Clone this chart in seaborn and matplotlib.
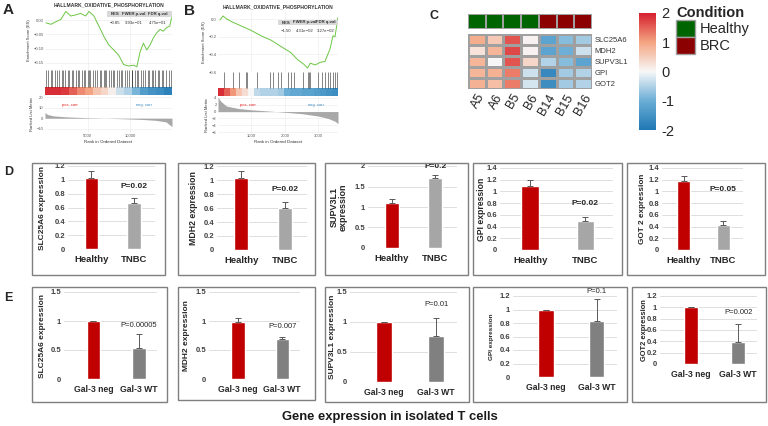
import numpy as np
import pandas as pd
import matplotlib
matplotlib.use('Agg')
from matplotlib import pyplot as plt
from matplotlib.colors import LinearSegmentedColormap, ListedColormap
from matplotlib.patches import Rectangle, Patch
import seaborn as sns

W, H = 768, 426

####### DATA #######
# panel A - GSEA, ranked list of ~14900 genes
a_rank = [116, 698, 1279, 1860, 2442, 3023, 3605, 4186, 4767, 5155, 5736, 6318, 6899, 7481, 8062,
          8643, 9225, 9806, 10388, 10775, 11163, 11550, 11938, 12326, 12713, 13101, 13488, 13876,
          14264, 14651, 14845]
a_es = [-0.010, -0.015, -0.006, 0.002, 0.030, 0.014, 0.018, 0.023, 0.014, 0.030, 0.014, -0.021,
        -0.057, -0.087, -0.105, -0.123, -0.156, -0.161, -0.158, -0.164, -0.111, -0.081, -0.105,
        -0.087, -0.063, -0.045, -0.033, -0.039, -0.027, -0.021, 0.008]
a_hits = [150, 380, 700, 820, 1150, 1450, 1600, 1950, 2100, 2350, 2650, 2800, 3150, 3300, 3600,
          3850, 3950, 4300, 4550, 4650, 5000, 5200, 5300, 5650, 5900, 6150, 6400, 6550, 6900, 7050,
          7200, 7550, 7700, 8000, 8150, 8450, 8700, 8950, 9050, 9400, 9650, 9800, 10150, 10250,
          10600, 10850, 10950, 11300, 11550, 11700, 12050, 12250, 12500, 12650, 12950, 13250,
          13400, 13750, 13900, 14250, 14500, 14750]
a_band = [1.9, 1.9, 1.8, 1.5, 1.2, 1.0, 0.6, 0.4, 0.1, -0.3, -0.5, -0.9, -1.3, -1.5, -1.6, -1.8]
a_metric_rank = [0, 300, 1000, 2500, 4500, 7000, 9500, 11500, 13000, 14200, 14900]
a_metric = [5.5, 3.5, 2.2, 1.3, 0.6, 0.0, -0.6, -1.2, -2.0, -3.5, -8.0]
a_stats = ['\u22120.85', '9.93e\u221201', '4.75e\u221201']

# panel B - GSEA, ranked list of ~3590 genes
b_rank = [60, 150, 265, 410, 705, 1000, 1290, 1590, 1880, 2180, 2380, 2560, 2680, 2760, 2910,
          3060, 3200, 3350, 3440, 3500, 3590]
b_es = [-0.01, 0.035, 0.0, -0.03, -0.08, -0.13, -0.19, -0.24, -0.31, -0.38, -0.46, -0.51, -0.555,
        -0.50, -0.52, -0.49, -0.48, -0.34, -0.19, -0.20, 0.02]
b_hits = [176, 441, 618, 824, 882, 1176, 1559, 1647, 1794, 1882, 2088, 2176, 2265, 2529, 2706,
          2735, 2765, 3000, 3118, 3206, 3294, 3353, 3441, 3500, 3559]
b_band = [1.9, 1.5, 1.1, 0.6, 0.3, 0.0, -0.4, -0.5, -0.5, -0.5, -0.6, -1.0, -1.1, -1.1, -1.2,
          -1.2, -1.3, -1.4, -1.5, -1.6]
b_metric_rank = [0, 80, 250, 600, 1000, 1600, 2000, 2500, 3000, 3300, 3500, 3590]
b_metric = [4.2, 3.0, 1.6, 0.9, 0.5, 0.1, -0.2, -0.6, -1.3, -2.0, -2.8, -3.5]
b_stats = ['\u22121.50', '4.31e\u221202', '3.27e\u221202']

# panel C - heatmap (z-scores)
samples = ['A5', 'A6', 'B5', 'B6', 'B14', 'B15', 'B16']
condition = ['Healthy', 'Healthy', 'Healthy', 'Healthy', 'BRC', 'BRC', 'BRC']
genes = ['SLC25A6', 'MDH2', 'SUPV3L1', 'GPI', 'GOT2']
z_slc25a6 = [0.9, 0.55, 1.6, 0.05, -1.2, -0.8, -0.6]
z_mdh2 = [0.25, 0.8, 1.7, 0.05, -1.2, -1.0, -0.3]
z_supv3l1 = [0.8, 0.0, 1.6, 0.4, -0.5, -0.8, -1.2]
z_gpi = [0.8, 0.85, 1.3, -0.3, -1.7, -0.6, -0.5]
z_got2 = [0.85, 0.7, 1.3, -0.25, -1.6, -0.6, -0.5]

# panel D - tumour vs healthy
d_groups = ['Healthy', 'TNBC']
d_ylabels = ['SLC25A6 expression', 'MDH2 expression', 'SUPV3L1\nexpression', 'GPI expression',
             'GOT 2 expression']
d_healthy = [1.03, 1.03, 1.10, 1.09, 1.17]
d_healthy_err = [0.10, 0.10, 0.10, 0.11, 0.10]
d_tnbc = [0.67, 0.60, 1.71, 0.50, 0.43]
d_tnbc_err = [0.07, 0.08, 0.07, 0.06, 0.07]
d_pvals = ['P=0.02', 'P=0.02', 'P=0.2', 'P=0.02', 'P=0.05']
d_p_y = [0.86, 0.81, 1.90, 0.73, 0.97]
d_ymax = [1.2, 1.2, 2.0, 1.4, 1.4]
d_ystep = [0.2, 0.2, 0.5, 0.2, 0.2]

# panel E - isolated T cells
e_groups = ['Gal-3 neg', 'Gal-3 WT']
e_ylabels = ['SLC25A6 expression', 'MDH2 expression', 'SUPV3L1 expression', 'GPI expression',
             'GOT2 expression']
e_neg = [1.00, 0.99, 1.00, 0.99, 1.00]
e_neg_err = [0.005, 0.06, 0.005, 0.005, 0.005]
e_wt = [0.54, 0.69, 0.76, 0.83, 0.39]
e_wt_err = [0.24, 0.04, 0.31, 0.32, 0.31]
e_pvals = ['P=0.00005', 'P=0.007', 'P=0.01', 'P=0.1', 'P=0.002']
e_p_y = [0.87, 0.84, 1.23, 1.22, 0.85]
e_ymax = [1.5, 1.5, 1.5, 1.2, 1.2]
e_ystep = [0.5, 0.5, 0.5, 0.2, 0.2]
##### END DATA #####

####### PLOT PARAMS #######
RED = '#C00000'
D_GREY = '#A6A6A6'
E_GREY = '#808080'
HEAT_CMAP = LinearSegmentedColormap.from_list(
    'heat', ['#1F78B4', '#6BAED6', '#F7F7F7', '#F4A582', '#D6202F'])
COND_COLORS = {'Healthy': '#006400', 'BRC': '#8B0000'}

# layout in pixels
D_AXES = [(68, 166, 155, 249), (217, 166, 307, 250), (368, 166, 457, 248),
          (500, 168, 613, 250), (662, 168, 743, 250)]
D_BOXES = [(32, 163, 165, 275), (178, 163, 315, 275), (325, 163, 468, 275),
           (473, 163, 622, 275), (627, 163, 765, 275)]
D_LABEL_X = [43, 193, 339, 481, 643]
E_AXES = [(64, 292, 157, 379), (209, 292, 300, 379), (350, 292, 457, 382),
          (513, 296, 617, 377), (660, 296, 757, 364)]
E_BOXES = [(32, 287, 167, 402), (178, 287, 315, 400), (325, 287, 469, 402),
           (473, 287, 627, 402), (632, 287, 766, 402)]
E_LABEL_X = [42, 187, 333, 491, 644]
D_LABEL_SIZE = [6.0, 6.3, 6.5, 6.2, 5.9]
E_LABEL_SIZE = [6.0, 6.0, 6.0, 4.6, 5.4]
##### END PLOT PARAMS #####

sns.set_style('white')
plt.rcParams['font.family'] = ['Liberation Sans', 'DejaVu Sans']


def rect(x0, y0, x1, y1):
    return [x0 / W, 1 - y1 / H, (x1 - x0) / W, (y1 - y0) / H]


def draw_gsea(fig, x0, x1, ys, rank, es, hits, band, m_rank, metric, n, es_lim, es_ticks, es_fmt,
              m_lim, m_ticks, r_ticks, stats, table, corr_x):
    top, hit_top, band_top, m_top, bottom = ys
    ax1 = fig.add_axes(rect(x0, top, x1, hit_top))
    sns.lineplot(x=rank, y=es, ax=ax1, color='#6CC644', linewidth=0.7)
    ax1.set_xlim(0, n)
    ax1.set_ylim(*es_lim)
    ax1.set_yticks(es_ticks)
    ax1.set_yticklabels([(es_fmt % t).replace('-', '\u2212') for t in es_ticks])
    ax1.set_xticks(r_ticks)
    ax1.set_xticklabels([])
    ax1.grid(True, color='#EBEBEB', lw=0.4)
    ax1.tick_params(length=0, labelsize=3, pad=1, colors='#555555')
    ax1.set_ylabel('Enrichment Score (ES)', fontsize=3, labelpad=2, color='#333333')
    for s in ax1.spines.values():
        s.set_visible(False)
    ax1.set_title('HALLMARK_OXIDATIVE_PHOSPHORYLATION', fontsize=3.6, pad=2.5,
                  color='#333333', fontweight='bold')
    # stats table
    tx0, ty0, ty1, tx = table
    ax1.add_patch(Rectangle((tx0, ty0), 1 - tx0, ty1 - ty0, transform=ax1.transAxes,
                            facecolor='#D9D9D9', edgecolor='none', zorder=3))
    heads = ['NES', 'FWER p-val', 'FDR q-val']
    for k in range(3):
        ax1.text(tx[k], (ty0 + ty1) / 2, heads[k], transform=ax1.transAxes, fontsize=3.1,
                 ha='center', va='center', color='#333333', fontweight='bold', zorder=4)
        ax1.text(tx[k], ty0 - 0.09, stats[k], transform=ax1.transAxes, fontsize=3.1,
                 ha='center', va='center', color='#333333', zorder=4)

    ax2 = fig.add_axes(rect(x0, hit_top, x1, m_top))
    frac = (m_top - band_top) / (m_top - hit_top)
    ax2.imshow([band], extent=(0, n, 0, frac), aspect='auto', cmap=HEAT_CMAP, vmin=-2, vmax=2)
    ax2.vlines(hits, frac, 1, color='black', lw=0.45, alpha=0.75)
    ax2.set_xlim(0, n)
    ax2.set_ylim(0, 1)
    ax2.axis('off')

    ax3 = fig.add_axes(rect(x0, m_top, x1, bottom))
    ax3.fill_between(m_rank, metric, 0, color='#A8A8A8', lw=0)
    ax3.set_xlim(0, n)
    ax3.set_ylim(*m_lim)
    ax3.set_yticks(m_ticks)
    ax3.set_yticklabels([str(t).replace('-', '\u2212') for t in m_ticks])
    ax3.set_xticks(r_ticks)
    ax3.grid(True, color='#EBEBEB', lw=0.4)
    ax3.tick_params(length=0, labelsize=3, pad=1, colors='#555555')
    ax3.set_ylabel('Ranked List Metric', fontsize=3, labelpad=2, color='#333333')
    ax3.set_xlabel('Rank in Ordered Dataset', fontsize=3.2, labelpad=1, color='#333333')
    for s in ax3.spines.values():
        s.set_visible(False)
    ax3.text(corr_x[0], 0.72, 'pos. corr', transform=ax3.transAxes, fontsize=3,
             color='#E41A1C', ha='center')
    ax3.text(corr_x[1], 0.72, 'neg. corr', transform=ax3.transAxes, fontsize=3,
             color='#3182BD', ha='center')


def draw_bars(fig, axpos, box, label_x, groups, vals, errs, colors, ylabel, lsize, ymax, ystep,
              ptxt, py, bold_p, xlim, width):
    fig.add_artist(Rectangle((box[0] / W, 1 - box[3] / H), (box[2] - box[0]) / W,
                             (box[3] - box[1]) / H, transform=fig.transFigure, fill=False,
                             edgecolor='#7F7F7F', lw=1.0))
    ax = fig.add_axes(rect(*axpos))
    df = pd.DataFrame({'group': groups, 'value': vals})
    sns.barplot(data=df, x='group', y='value', hue='group', palette=dict(zip(groups, colors)),
                width=width, legend=False, errorbar=None, saturation=1, ax=ax, zorder=2)
    ax.errorbar([0, 1], vals, yerr=[[0, 0], errs], fmt='none', ecolor='#595959',
                elinewidth=0.7, capsize=2, capthick=0.7, zorder=3)
    ticks = np.arange(0, ymax + 1e-9, ystep)
    ax.set_ylim(0, ymax)
    ax.set_yticks(ticks)
    ax.set_yticklabels([f'{t:g}' for t in ticks])
    ax.set_xlim(*xlim)
    ax.set_axisbelow(True)
    ax.yaxis.grid(True, color='#D9D9D9', lw=0.6)
    sns.despine(ax=ax, left=True, bottom=True)
    ax.tick_params(axis='y', length=0, pad=2)
    ax.tick_params(axis='x', length=0, pad=4)
    for t in ax.get_yticklabels():
        t.set_fontsize(5.5)
        t.set_fontweight('bold')
        t.set_color('#404040')
    for t in ax.get_xticklabels():
        t.set_fontsize(6.8 if bold_p else 6.2)
        t.set_fontweight('bold')
        t.set_color('#262626')
    ax.set_xlabel('')
    ax.set_ylabel(ylabel, fontsize=lsize, fontweight='bold', color='#262626', va='center',
                  linespacing=1.0)
    ax.yaxis.set_label_coords((label_x - axpos[0]) / (axpos[2] - axpos[0]), 0.5)
    ax.text(1, py, ptxt, ha='center', va='bottom', fontsize=6 if bold_p else 5.5,
            fontweight='bold' if bold_p else 'normal', color='#262626')
    return ax


def main():
    fig = plt.figure(figsize=(W / 100, H / 100), dpi=100)

    # A and B
    draw_gsea(fig, 45, 172, (10, 70, 87, 95, 133), a_rank, a_es, a_hits, a_band,
              a_metric_rank, a_metric, 14900, (-0.175, 0.035), [0.0, -0.05, -0.10, -0.15],
              '%.2f', (-14, 22), [20, 10, 0, -10], [5000, 10000], a_stats,
              (0.49, 0.88, 0.985, [0.55, 0.70, 0.89]), (0.2, 0.78))
    draw_gsea(fig, 218, 338, (12, 72, 88, 96, 133), b_rank, b_es, b_hits, b_band,
              b_metric_rank, b_metric, 3590, (-0.6, 0.08), [0.0, -0.2, -0.4, -0.6],
              '%.1f', (-6.2, 4.5), [4, 2, 0, -2, -4, -6], [1000, 2000, 3000], b_stats,
              (0.5, 0.78, 0.87, [0.57, 0.72, 0.90]), (0.25, 0.82))

    # C heatmap
    cond_ax = fig.add_axes(rect(468, 14, 592, 29))
    codes = [[0 if c == 'Healthy' else 1 for c in condition]]
    sns.heatmap(codes, ax=cond_ax, cmap=ListedColormap([COND_COLORS['Healthy'], COND_COLORS['BRC']]),
                vmin=0, vmax=1, cbar=False, linewidths=1.2, linecolor='#A0A0A0',
                xticklabels=False, yticklabels=False)
    heat = pd.DataFrame([z_slc25a6, z_mdh2, z_supv3l1, z_gpi, z_got2], index=genes, columns=samples)
    heat_ax = fig.add_axes(rect(468, 34, 592, 89))
    cax = fig.add_axes(rect(639, 13, 656, 130))
    sns.heatmap(heat, ax=heat_ax, cmap=HEAT_CMAP, vmin=-2, vmax=2, linewidths=1.0,
                linecolor='#A0A0A0', cbar_ax=cax, xticklabels=samples, yticklabels=genes)
    heat_ax.yaxis.tick_right()
    heat_ax.tick_params(length=0, pad=2)
    plt.setp(heat_ax.get_yticklabels(), rotation=0, fontsize=5.5, color='#333333')
    plt.setp(heat_ax.get_xticklabels(), rotation=60, ha='right', rotation_mode='anchor',
             fontsize=9, color='#222222')
    cbar = heat_ax.collections[0].colorbar
    cbar.outline.set_visible(False)
    cbar.set_ticks([2, 1, 0, -1, -2])
    cbar.set_ticklabels(['2', '1', '0', '-1', '-2'])
    cax.tick_params(length=0, labelsize=10.5, pad=4)
    handles = [Patch(facecolor=COND_COLORS[k], edgecolor='#A0A0A0') for k in ['Healthy', 'BRC']]
    leg = fig.legend(handles, ['Healthy', 'BRC'], title='Condition', loc='upper left',
                     bbox_to_anchor=(676 / W, 1 - 6 / H), frameon=False, fontsize=10.5,
                     title_fontproperties={'weight': 'bold', 'size': 10.5},
                     handlelength=1.3, handleheight=1.4, labelspacing=0.0,
                     handletextpad=0.3, borderpad=0, borderaxespad=0)
    leg._legend_box.align = 'left'

    # D and E bar panels
    for i in range(5):
        draw_bars(fig, D_AXES[i], D_BOXES[i], D_LABEL_X[i], d_groups, [d_healthy[i], d_tnbc[i]],
                  [d_healthy_err[i], d_tnbc_err[i]], [RED, D_GREY], d_ylabels[i],
                  D_LABEL_SIZE[i], d_ymax[i], d_ystep[i], d_pvals[i], d_p_y[i], True,
                  (-0.55, 1.5), 0.32)
        draw_bars(fig, E_AXES[i], E_BOXES[i], E_LABEL_X[i], e_groups, [e_neg[i], e_wt[i]],
                  [e_neg_err[i], e_wt_err[i]], [RED, E_GREY], e_ylabels[i],
                  E_LABEL_SIZE[i], e_ymax[i], e_ystep[i], e_pvals[i], e_p_y[i], False,
                  (-0.65, 1.4), 0.3)

    # panel letters
    for letter, x, y in [('A', 3, 10), ('B', 184, 11), ('C', 430, 16), ('D', 4, 172), ('E', 4, 298)]:
        fig.text(x / W, 1 - y / H, letter, fontsize=11 if letter in 'AB' else 9,
                 fontweight='bold', va='center', ha='left')

    fig.text(390 / W, 1 - 417 / H, 'Gene expression in isolated T cells', fontsize=9.4,
             fontweight='bold', ha='center', va='center', color='#1A1A1A')

    fig.savefig('out.png', dpi=100)
    plt.close(fig)


main()
